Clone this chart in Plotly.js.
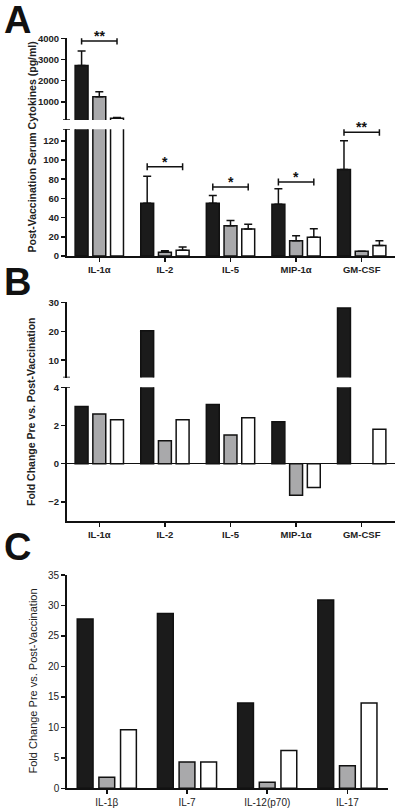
<!DOCTYPE html>
<html><head><meta charset="utf-8">
<script src="https://cdn.plot.ly/plotly-3.0.1.min.js"></script>
<style>html,body{margin:0;padding:0;background:#fff}#chart{width:400px;height:809px}</style>
</head><body><div id="chart"></div>
<script>
// ---------- DATA ----------
const catsA = ['IL-1α','IL-2','IL-5','MIP-1α','GM-CSF'];
const aBlack = [2720, 55, 55, 54, 90];
const aGray  = [1250, 4, 31.5, 16, 5];
const aWhite = [230, 6, 28, 19.5, 11];
const aBlackErr = [680, 28, 8, 16, 30];
const aGrayErr  = [235, 1.5, 5.5, 5, 0];
const aWhiteErr = [40, 3.5, 5, 9, 5];
const sigCats   = ['IL-1α','IL-2','IL-5','MIP-1α','GM-CSF'];
const sigLevel  = [3870, 93, 72, 77, 129];
const sigStars  = ['**','*','*','*','**'];

const catsB = ['IL-1α','IL-2','IL-5','MIP-1α','GM-CSF'];
const bBlack = [3.0, 20.2, 3.1, 2.2, 28.0];
const bGray  = [2.6, 1.2, 1.5, -1.65, null];
const bWhite = [2.3, 2.3, 2.4, -1.25, 1.8];

const catsC = ['IL-1β','IL-7','IL-12(p70)','IL-17'];
const cBlack = [27.8, 28.7, 14.0, 30.9];
const cGray  = [1.8, 4.3, 1.0, 3.7];
const cWhite = [9.6, 4.3, 6.2, 14.0];

const tickA_top = [1000, 2000, 3000, 4000];
const tickA_bot = [0, 20, 40, 60, 80, 100, 120];
const tickB_top = [10, 20, 30];
const tickB_bot = [-2, 0, 2, 4];
const tickC = [0, 5, 10, 15, 20, 25, 30, 35];

const titleA = 'Post-Vaccination Serum Cytokines (pg/ml)';
const titleB = 'Fold Change Pre vs. Post-Vaccination';
const titleC = 'Fold Change Pre vs. Post-Vaccination';

// ---------- STYLE / LAYOUT ----------
const W = 400, H = 809;
const FONT = 'Liberation Sans, Arial, Helvetica, sans-serif';
const COLORS = ['#1b1b1b', '#a9a9ab', '#ffffff'];
const LINE = '#111';
const fy = px => 1 - px / H;   // pixel from top -> paper fraction
const fx = px => px / W;

const rangeA_top = [150, 4000], rangeA_bot = [0, 132];
const rangeB_top = [4, 30], rangeB_bot = [-3, 4];
const rangeC = [0, 35];

function barTrace(cats, vals, errs, color, xa, ya) {
  const t = {
    type: 'bar', x: cats, y: vals, xaxis: xa, yaxis: ya,
    marker: {color: color, line: {color: LINE, width: 1.5}},
    showlegend: false, hoverinfo: 'skip'
  };
  if (errs) {
    t.error_y = {type: 'data', symmetric: false, array: errs,
      arrayminus: errs.map(() => 0), color: LINE, thickness: 1.5, width: 4};
  }
  return t;
}

const data = [];
['y', 'y2'].forEach(ya => {
  data.push(barTrace(catsA, aBlack, aBlackErr, COLORS[0], 'x', ya));
  data.push(barTrace(catsA, aGray, aGrayErr, COLORS[1], 'x', ya));
  data.push(barTrace(catsA, aWhite, aWhiteErr, COLORS[2], 'x', ya));
});
['y3', 'y4'].forEach(ya => {
  data.push(barTrace(catsB, bBlack, null, COLORS[0], 'x2', ya));
  data.push(barTrace(catsB, bGray, null, COLORS[1], 'x2', ya));
  data.push(barTrace(catsB, bWhite, null, COLORS[2], 'x2', ya));
});
data.push(barTrace(catsC, cBlack, null, COLORS[0], 'x3', 'y5'));
data.push(barTrace(catsC, cGray, null, COLORS[1], 'x3', 'y5'));
data.push(barTrace(catsC, cWhite, null, COLORS[2], 'x3', 'y5'));

const boldTick = {family: FONT, size: 9.5, color: '#222', weight: 'bold'};
const normTick = {family: FONT, size: 10, color: '#222'};

function yAx(domain, range, tickvals, anchor, font, extra) {
  return Object.assign({
    domain: domain, range: range, tickvals: tickvals, anchor: anchor,
    showline: true, linecolor: LINE, linewidth: 1.5,
    ticks: 'outside', ticklen: 4, tickwidth: 1.5, tickcolor: LINE,
    showgrid: false, zeroline: false, tickfont: font, fixedrange: true
  }, extra || {});
}
function xAx(domain, ncat, anchor, font) {
  return {
    domain: domain, range: [-0.5, ncat - 0.5], type: 'category', anchor: anchor,
    showline: true, linecolor: LINE, linewidth: 1.5,
    ticks: 'outside', ticklen: 4, tickwidth: 1.5, tickcolor: LINE,
    showgrid: false, zeroline: false, tickfont: font, fixedrange: true
  };
}

const xDomAB = [fx(66.5), fx(394.5)];
const xDomC = [fx(66.7), fx(387.5)];

const layout = {
  width: W, height: H, autosize: false,
  margin: {l: 0, r: 0, t: 0, b: 0},
  paper_bgcolor: '#fff', plot_bgcolor: 'rgba(0,0,0,0)',
  barmode: 'group', bargap: 0.19, bargroupgap: 0.27,
  font: {family: FONT, color: '#222'},
  xaxis: xAx(xDomAB, catsA.length, 'y2', boldTick),
  yaxis: yAx([fy(120), fy(38.3)], rangeA_top, tickA_top, 'x', boldTick),
  yaxis2: yAx([fy(256), fy(129.3)], rangeA_bot, tickA_bot, 'x', boldTick),
  xaxis2: xAx(xDomAB, catsB.length, 'y4', boldTick),
  yaxis3: yAx([fy(377.6), fy(302.3)], rangeB_top, tickB_top, 'x2', boldTick),
  yaxis4: yAx([fy(521), fy(387.3)], rangeB_bot, tickB_bot, 'x2', boldTick,
             {zeroline: true, zerolinecolor: LINE, zerolinewidth: 1.5}),
  xaxis3: xAx(xDomC, catsC.length, 'y5', normTick),
  yaxis5: yAx([fy(788.3), fy(575)], rangeC, tickC, 'x3', normTick),
  shapes: [], annotations: []
};

// axis break caps
[[xDomAB[0], 'y', rangeA_top[0]], [xDomAB[0], 'y2', rangeA_bot[1]],
 [xDomAB[0], 'y3', rangeB_top[0]], [xDomAB[0], 'y4', rangeB_bot[1]]].forEach(b => {
  layout.shapes.push({type: 'line', xref: 'paper', yref: b[1],
    x0: b[0] - fx(3.5), x1: b[0] + fx(3.5), y0: b[2], y1: b[2],
    line: {color: LINE, width: 1.5}});
});

// significance brackets
const OFF = 0.27;
sigCats.forEach((c, k) => {
  const i = catsA.indexOf(c);
  const yref = sigLevel[k] > rangeA_bot[1] ? 'y' : 'y2';
  layout.shapes.push({type: 'line', xref: 'x', yref: yref,
    x0: i - OFF, x1: i + OFF, y0: sigLevel[k], y1: sigLevel[k],
    line: {color: LINE, width: 1.5}});
  [i - OFF, i + OFF].forEach(xx => {
    layout.shapes.push({type: 'line', xref: 'x', yref: yref,
      ysizemode: 'pixel', yanchor: sigLevel[k], y0: -3.5, y1: 3.5,
      x0: xx, x1: xx, line: {color: LINE, width: 1.5}});
  });
  layout.annotations.push({xref: 'x', yref: yref, x: i, y: sigLevel[k],
    text: sigStars[k], showarrow: false, yanchor: 'bottom', yshift: -5,
    font: {family: FONT, size: 14, color: '#111', weight: 'bold'}});
});

// y-axis titles
[[titleA, 147, 31.5, 'bold', 10.5], [titleB, 412, 31, 'bold', 10.5], [titleC, 681.5, 32, 'normal', 11]].forEach(t => {
  layout.annotations.push({xref: 'paper', yref: 'paper', x: fx(t[2]), y: fy(t[1]),
    xanchor: 'center', yanchor: 'middle', textangle: -90, showarrow: false,
    text: t[0], font: {family: FONT, size: t[4], color: '#222', weight: t[3]}});
});

// panel letters
[['A', -3], ['B', 259], ['C', 524]].forEach(p => {
  layout.annotations.push({xref: 'paper', yref: 'paper', x: fx(2), y: fy(p[1]),
    xanchor: 'left', yanchor: 'top', showarrow: false, text: p[0],
    font: {family: FONT, size: 38, color: '#111', weight: 'bold'}});
});

Plotly.newPlot('chart', data, layout, {staticPlot: true, displayModeBar: false});
</script></body></html>
